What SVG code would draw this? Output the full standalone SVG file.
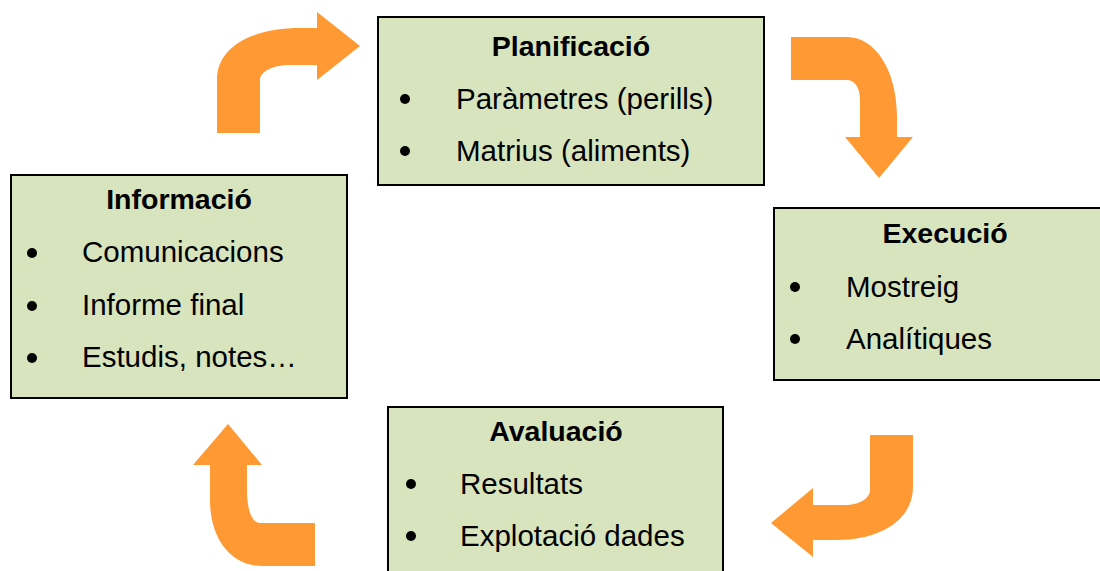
<svg xmlns="http://www.w3.org/2000/svg" width="1100" height="571" viewBox="0 0 1100 571">
<style>
.box{fill:#D7E4BD;stroke:#000;stroke-width:2}
.t{font-family:"Liberation Sans",Arial,sans-serif;font-size:28.5px;font-weight:bold;fill:#000;text-anchor:middle}
.i{font-family:"Liberation Sans",Arial,sans-serif;font-size:29.5px;fill:#000}
.b{fill:#000}
.arr{fill:#FF9933}
</style>
<rect width="1100" height="571" fill="#fff"/>
<g id="connectors">
<path class="arr" d="M217,133 L217,80 C217,45 255,28 300,28 L317,28 L317,12 L360,46 L317,80 L317,65 L290,65 C272,65 260,72 260,80 L260,133 Z"/>
<path class="arr" d="M791,37 L847,37 C875,37 897,70 897,117 L897,137 L913,137 L879,178 L845,137 L860,137 L860,100 C860,88 855,80 847,80 L791,80 Z"/>
<path class="arr" d="M913,435 L913,487 C913,520 880,540 837,540 L813,540 L813,557 L771,523 L813,488 L813,505 L845,505 C860,505 870,498 870,490 L870,435 Z"/>
<path class="arr" d="M315,523 L260,523 C252,523 247,510 247,490 L247,465 L262,465 L228,424 L193,465 L210,465 L210,500 C210,540 232,566 262,566 L315,566 Z"/>
</g>
<g id="planificacio">
<rect class="box" x="378" y="17" width="386" height="168"/>
<text class="t" x="571" y="56">Planificació</text>
<circle class="b" cx="405" cy="99" r="5"/>
<text class="i" x="456" y="109">Paràmetres (perills)</text>
<circle class="b" cx="405" cy="151" r="5"/>
<text class="i" x="456" y="161">Matrius (aliments)</text>
</g>
<g id="informacio">
<rect class="box" x="11" y="175" width="336" height="223"/>
<text class="t" x="179" y="209">Informació</text>
<circle class="b" cx="32" cy="253" r="5"/>
<text class="i" x="82" y="262">Comunicacions</text>
<circle class="b" cx="32" cy="306" r="5"/>
<text class="i" x="82" y="315">Informe final</text>
<circle class="b" cx="32" cy="358" r="5"/>
<text class="i" x="82" y="367">Estudis, notes…</text>
</g>
<g id="execucio">
<rect class="box" x="774" y="208" width="345" height="172"/>
<text class="t" x="945" y="243">Execució</text>
<circle class="b" cx="795" cy="287" r="5"/>
<text class="i" x="846" y="297">Mostreig</text>
<circle class="b" cx="795" cy="339" r="5"/>
<text class="i" x="846" y="349">Analítiques</text>
</g>
<g id="avaluacio">
<rect class="box" x="388" y="407" width="335" height="180"/>
<text class="t" x="556" y="441">Avaluació</text>
<circle class="b" cx="411" cy="484" r="5"/>
<text class="i" x="460" y="494">Resultats</text>
<circle class="b" cx="411" cy="536" r="5"/>
<text class="i" x="460" y="546">Explotació dades</text>
</g>
</svg>
